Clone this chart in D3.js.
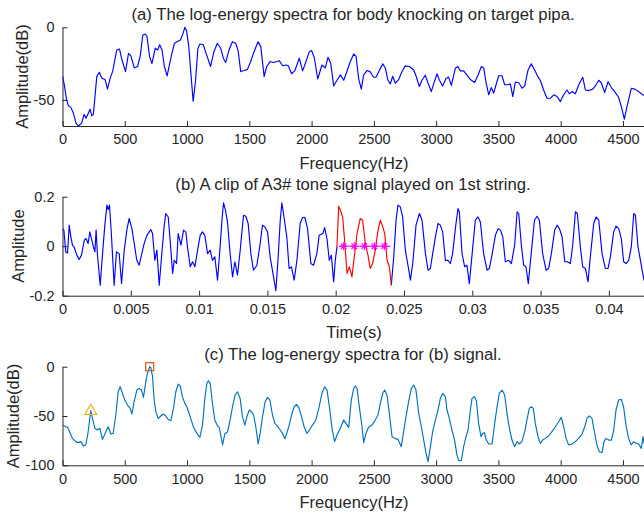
<!DOCTYPE html>
<html>
<head>
<meta charset="utf-8">
<script src="https://cdn.jsdelivr.net/npm/d3@7/dist/d3.min.js"></script>
<style>
html,body{margin:0;padding:0;background:#fff;}
svg{display:block;}
text{font-family:"Liberation Sans",Arial,Helvetica,sans-serif;fill:#262626;}
</style>
</head>
<body>
<svg id="chart" width="644" height="513"></svg>
<script>
// ---------- DATA ----------
const titles = [
  "(a) The log-energy spectra for body knocking on target pipa.",
  "(b) A clip of A3# tone signal played on 1st string.",
  "(c) The log-energy spectra for (b) signal."
];
const freqTicks = [0,500,1000,1500,2000,2500,3000,3500,4000,4500];
const timeTicks = [0,0.005,0.01,0.015,0.02,0.025,0.03,0.035,0.04];
const timeTickLabels = ["0","0.005","0.01","0.015","0.02","0.025","0.03","0.035","0.04"];
const yTicksA = [-50,0];
const yTicksB = [-0.2,0,0.2];
const yTicksC = [-100,-50,0];

// (a) body knocking spectrum: [Hz, dB]
const spectrumA = [
[0,-33.5],[12,-38.5],[33,-50],[47,-54],[66,-55],[87,-59],[108,-66],[127,-68],[154,-66],[173,-60],[189,-62.6],
[208,-59],[221,-56.4],[235,-61],[248,-60],[275,-34],[296,-31],[315,-35],[342,-36],[361,-42.6],[383,-35],[404,-30],
[423,-21],[436,-15.6],[458,-15],[476,-22],[506,-30.5],[530,-18],[549,-19.7],[576,-28],[603,-27],[624,-19.7],
[645,-5.3],[664,-4.6],[678,-6.3],[699,-20],[718,-25],[745,-14.4],[764,-15.6],[780,-12],[799,-15.6],[818,-27],
[840,-33.5],[861,-24.8],[880,-17.4],[899,-11],[920,-10],[947,-8.7],[969,-4],[982,0],[996,-2.3],[1014,-13.3],
[1033,-34],[1049,-51],[1068,-37],[1087,-14.7],[1103,-11.5],[1130,-12],[1157,-19],[1189,-27],[1216,-16.8],
[1243,-11],[1270,-14.4],[1291,-21.3],[1310,-24.3],[1337,-15.6],[1364,-10],[1390,-11],[1409,-15.6],[1431,-30.5],
[1458,-29.8],[1485,-29],[1511,-23.6],[1538,-16.8],[1570,-10],[1592,-13.3],[1619,-34],[1640,-27],[1667,-23.6],
[1694,-24.3],[1721,-23.6],[1740,-23],[1767,-26.5],[1794,-26],[1813,-26.5],[1839,-32],[1866,-29.8],[1901,-21.3],
[1928,-30],[1955,-23.6],[1982,-16.8],[2000,-16],[2022,-21],[2049,-35.6],[2083,-26],[2110,-28],[2132,-20.6],
[2154,-25],[2177,-40.4],[2204,-36.5],[2231,-32.8],[2258,-36.5],[2277,-32],[2311,-23.6],[2338,-18.4],[2357,-20],
[2378,-35.6],[2399,-42.6],[2418,-32.8],[2445,-29.8],[2471,-30.7],[2498,-34.4],[2517,-34.4],[2544,-29.8],
[2571,-25.2],[2592,-28],[2613,-36.5],[2632,-39],[2651,-33.7],[2672,-38.5],[2699,-36],[2726,-30.5],[2752,-26.6],
[2784,-27],[2819,-29.3],[2838,-33.4],[2865,-40.8],[2886,-36.5],[2913,-33],[2934,-38.2],[2961,-44.3],[2980,-39],
[3007,-32],[3026,-36.5],[3052,-40.4],[3079,-35.3],[3100,-34.3],[3122,-40],[3154,-28.2],[3175,-27],[3194,-30],
[3221,-30],[3248,-33],[3275,-36],[3309,-38],[3336,-33],[3363,-27],[3382,-28],[3400,-37.7],[3422,-46.5],
[3443,-41.5],[3462,-45.4],[3481,-39.6],[3502,-33.4],[3529,-33.4],[3550,-39.6],[3577,-39.6],[3596,-39],
[3615,-47.7],[3636,-37.7],[3663,-38.2],[3690,-42],[3711,-40.4],[3738,-29.4],[3764,-25.2],[3791,-29.4],
[3817,-34],[3836,-36.5],[3863,-43.2],[3890,-48.9],[3917,-48.9],[3944,-46.5],[3971,-47.7],[3997,-51.2],
[4024,-46.5],[4051,-43.2],[4070,-45.8],[4091,-44.3],[4118,-45.8],[4145,-39.6],[4177,-34.4],[4198,-43.2],
[4225,-43.6],[4257,-42.6],[4284,-39.6],[4305,-36.5],[4326,-38.2],[4353,-45],[4380,-37.5],[4407,-41.5],
[4433,-44.3],[4465,-48.2],[4487,-54.6],[4511,-63.3],[4532,-54.6],[4567,-42],[4594,-42.6],[4626,-44.3],
[4658,-46.5],[4700,-48]
];

// (b) A3# waveform: [s, amplitude]
const signalB = [
[0,0.071],[0.0001,0.065],[0.00024,-0.023],[0.00037,-0.027],[0.00049,0.085],[0.00061,0.038],[0.00073,0.004],
[0.00085,-0.003],[0.00105,-0.036],[0.00122,-0.054],[0.00139,-0.036],[0.00159,0.024],[0.00173,0.031],[0.00188,0.011],
[0.002,0.058],[0.0022,0.011],[0.00237,-0.023],[0.00246,0.065],[0.00256,-0.036],[0.00276,-0.158],[0.00293,-0.03],
[0.0031,0.085],[0.00325,0.166],[0.00334,0.148],[0.00344,0.166],[0.00359,0.038],[0.00378,-0.158],[0.00395,-0.023],
[0.00415,-0.03],[0.00432,-0.151],[0.00452,-0.016],[0.00471,0.065],[0.00488,0.112],[0.00508,0.071],[0.00525,0.011],
[0.00544,-0.057],[0.00561,-0.077],[0.00578,-0.036],[0.00598,0.011],[0.00618,0.044],[0.00635,0.058],[0.00647,0.067],
[0.00659,0.051],[0.00676,-0.057],[0.00691,-0.016],[0.00708,-0.158],[0.00725,-0.043],[0.00745,0.085],[0.00756,0.132],
[0.00774,0.118],[0.00788,0.024],[0.00806,-0.11],[0.00818,-0.057],[0.00835,-0.07],[0.00847,0.051],[0.00867,0.004],
[0.00886,0.065],[0.00903,0.058],[0.00915,-0.003],[0.00935,-0.083],[0.00952,-0.063],[0.00969,-0.083],[0.00989,-0.016],
[0.01008,0.044],[0.01025,0.058],[0.01042,0.044],[0.01062,-0.03],[0.01081,-0.016],[0.01098,-0.057],[0.01115,-0.043],
[0.01135,-0.137],[0.01152,-0.016],[0.01169,0.118],[0.01179,0.175],[0.01193,0.145],[0.01208,0.098],[0.01228,-0.036],
[0.01245,-0.124],[0.01262,-0.063],[0.01281,-0.117],[0.01301,-0.016],[0.01325,0.125],[0.01342,0.121],[0.01359,0.092],
[0.01379,-0.03],[0.01398,-0.097],[0.01423,-0.077],[0.01447,0.011],[0.01464,0.085],[0.01481,0.078],[0.01501,0.058],
[0.0152,-0.043],[0.01545,-0.124],[0.01562,-0.18],[0.01579,-0.043],[0.01594,0.105],[0.01606,0.175],[0.01623,0.112],
[0.01642,0.038],[0.01659,-0.09],[0.01676,-0.083],[0.01696,-0.137],[0.01716,-0.057],[0.0174,0.092],[0.01757,0.116],
[0.01774,0.116],[0.01794,0.071],[0.01818,-0.07],[0.01838,-0.077],[0.01862,-0.03],[0.01879,0.044],[0.01906,0.051],
[0.01919,0.075],[0.01936,0.031],[0.01953,-0.057],[0.01968,-0.036],[0.01985,-0.144],[0.01997,-0.057],[0.02009,-0.003],
[0.02022,0.162],[0.02039,0.139],[0.02051,0.118],[0.02066,0.018],[0.02083,-0.11],[0.021,-0.083],[0.02119,-0.124],
[0.02139,-0.03],[0.02156,0.051],[0.0218,0.112],[0.02197,0.105],[0.02217,0.011],[0.02236,-0.036],[0.02253,-0.09],
[0.0227,-0.07],[0.0229,-0.016],[0.0231,0.065],[0.02327,0.105],[0.02344,0.078],[0.02359,0.051],[0.02376,-0.057],
[0.02393,-0.083],[0.02407,-0.158],[0.02424,-0.05],[0.02442,0.105],[0.02456,0.166],[0.02473,0.159],[0.0249,0.118],
[0.0251,-0.016],[0.02529,-0.077],[0.02547,-0.137],[0.02564,-0.07],[0.02588,0.085],[0.02613,0.132],[0.02632,0.105],
[0.02657,-0.03],[0.02676,-0.097],[0.02693,-0.09],[0.0271,-0.03],[0.0273,0.038],[0.02749,0.092],[0.02766,0.085],
[0.02783,0.058],[0.02803,-0.057],[0.02822,-0.057],[0.02839,-0.07],[0.02856,-0.03],[0.02876,0.071],[0.02895,0.152],
[0.02905,0.139],[0.02925,-0.03],[0.02944,-0.083],[0.02961,-0.077],[0.02978,-0.151],[0.02998,-0.036],[0.03022,0.105],
[0.03042,0.118],[0.03059,0.098],[0.03083,-0.03],[0.03108,-0.097],[0.03125,-0.09],[0.03144,-0.036],[0.03169,0.044],
[0.03189,0.071],[0.03206,0.065],[0.03223,0.038],[0.03242,-0.063],[0.03267,-0.057],[0.03286,-0.07],[0.0331,0.004],
[0.03328,0.139],[0.0334,0.132],[0.03359,0.004],[0.03376,-0.077],[0.03393,-0.083],[0.0341,-0.151],[0.0343,-0.036],
[0.03455,0.105],[0.03474,0.121],[0.03491,0.105],[0.03515,-0.03],[0.0354,-0.097],[0.03559,-0.09],[0.03579,-0.03],
[0.03603,0.065],[0.03621,0.085],[0.03638,0.071],[0.03657,0.038],[0.03677,-0.063],[0.03696,-0.063],[0.03718,-0.07],
[0.03735,0.004],[0.03755,0.139],[0.03769,0.132],[0.03791,-0.003],[0.03808,-0.083],[0.03828,-0.09],[0.03847,-0.144],
[0.03864,-0.043],[0.03889,0.092],[0.03906,0.118],[0.03926,0.105],[0.0395,-0.03],[0.03974,-0.09],[0.03994,-0.09],
[0.04011,-0.043],[0.04035,0.058],[0.04052,0.081],[0.04072,0.071],[0.04091,0.031],[0.04108,-0.063],[0.04125,-0.07],
[0.04145,-0.057],[0.04164,-0.003],[0.04182,0.132],[0.04194,0.125],[0.04213,-0.003],[0.04231,-0.057],[0.04243,-0.097],
[0.04257,-0.137],[0.0428,-0.06]
];
// highlighted period (red) and its zero-line markers (magenta)
const highlightRange = [0.02009, 0.02407];
const markerTimes = [0.02058, 0.02136, 0.0221, 0.02283, 0.02356];
const markerLineRange = [0.02022, 0.02402];

// (c) spectrum of (b): [Hz, dB]
const spectrumC = [
[0,-59.2],[27,-60.9],[40,-61.5],[62,-67.6],[80,-72.7],[107,-76],[126,-77],[147,-76],[169,-80.5],[187,-79.4],
[206,-66],[227,-44.6],[241,-52.4],[260,-62.5],[281,-64.2],[300,-62.5],[321,-73.7],[348,-66],[367,-60.9],[388,-68.3],
[407,-67.6],[428,-49],[447,-25.4],[463,-20.3],[482,-27],[500,-33.8],[522,-38.9],[543,-42.3],[557,-48],[575,-35.5],
[597,-23.7],[616,-22],[634,-23.7],[650,-31.1],[669,-15.2],[682,-6.8],[700,0],[709,-1],[723,-10.1],[736,-33.8],
[749,-45.6],[768,-52.4],[790,-50],[808,-48],[830,-50],[848,-53.4],[870,-54.8],[891,-42.3],[910,-25.4],[929,-17.6],
[945,-19.6],[963,-30.4],[982,-37.2],[998,-40.6],[1025,-50.7],[1052,-61.5],[1079,-67.6],[1103,-71.7],[1124,-59.2],
[1143,-32.1],[1159,-16.9],[1172,-14.2],[1186,-16.9],[1204,-37.2],[1223,-54],[1245,-60.2],[1258,-61.5],[1271,-69.3],
[1285,-79.4],[1303,-68.3],[1325,-66],[1346,-54],[1365,-40.6],[1386,-28.7],[1405,-25.4],[1426,-32.1],[1445,-50.7],
[1464,-59.2],[1480,-50.7],[1499,-44],[1517,-45.6],[1534,-49],[1552,-60.9],[1571,-78.4],[1587,-67.6],[1606,-50.7],
[1627,-35.5],[1646,-31.1],[1665,-33.8],[1686,-49],[1705,-57.5],[1726,-60.2],[1748,-64.2],[1766,-67.6],[1785,-73],
[1801,-67.6],[1820,-59.2],[1839,-49],[1860,-40.6],[1879,-38.2],[1900,-42.3],[1919,-50.7],[1940,-60.9],[1962,-67.6],
[1980,-64.9],[2007,-59.2],[2034,-54],[2061,-40.6],[2083,-27],[2105,-20.3],[2124,-23.7],[2143,-40.6],[2164,-62.5],
[2185,-76],[2204,-69.3],[2231,-62.5],[2257,-54],[2276,-57.5],[2298,-61.5],[2319,-33.8],[2338,-22],[2351,-19.6],
[2365,-22],[2383,-40.6],[2405,-60.9],[2418,-77],[2437,-67.6],[2458,-61.5],[2485,-59.2],[2511,-54],[2533,-49],
[2552,-37.2],[2571,-27],[2587,-23.7],[2605,-28.7],[2624,-47.3],[2646,-71],[2667,-72.7],[2694,-73.7],[2720,-81.1],
[2739,-65.9],[2758,-50.7],[2779,-35.5],[2801,-22],[2820,-18.6],[2838,-23.7],[2860,-47.3],[2881,-60.9],[2900,-74.4],
[2919,-87.9],[2935,-96.3],[2954,-81.1],[2972,-65.9],[2994,-54],[3015,-43.9],[3034,-32.1],[3053,-27],[3074,-30.4],
[3087,-43.9],[3106,-52.4],[3127,-64.2],[3148,-74.4],[3167,-89.6],[3181,-95.3],[3202,-95.3],[3221,-81.1],[3240,-71],
[3256,-64.2],[3275,-43.9],[3288,-32.1],[3307,-30.4],[3323,-34.5],[3341,-57.5],[3360,-71],[3373,-67.6],[3387,-66.9],
[3403,-74.4],[3422,-78.4],[3449,-78.4],[3470,-57.5],[3489,-40.6],[3507,-27],[3529,-23.7],[3550,-28.7],[3569,-47.3],
[3588,-62.5],[3609,-74.4],[3630,-81.1],[3649,-76],[3668,-78.4],[3689,-76],[3711,-65.9],[3729,-54],[3748,-42.3],
[3764,-40.6],[3780,-42.3],[3796,-57.5],[3818,-71],[3837,-77.8],[3855,-74.4],[3877,-72.7],[3903,-70.3],[3930,-65.9],
[3957,-60.9],[3984,-55.8],[4005,-51.4],[4024,-60.9],[4043,-72.7],[4064,-79.4],[4091,-78.4],[4118,-76],[4144,-72.7],
[4171,-68.3],[4193,-60.9],[4211,-52.4],[4230,-50],[4251,-52.4],[4273,-67.6],[4291,-79.4],[4310,-86.2],[4332,-87.2],
[4348,-76],[4364,-72.7],[4385,-74.4],[4407,-74.4],[4425,-64.9],[4444,-43.9],[4465,-33.8],[4486,-33.1],[4505,-40.6],
[4524,-59.2],[4545,-72.7],[4566,-79.4],[4585,-76],[4604,-77.8],[4626,-78.4],[4647,-82.8],[4661,-71],[4669,-77.8],
[4700,-70]
];
// marked peaks in (c)
const fundamentalPeak = [227, -45];   // triangle
const maxPeak = [700, 0];             // square

// ---------- DRAW ----------
const svg = d3.select("#chart");
svg.append("rect").attr("width",644).attr("height",513).attr("fill","#fff");

const axisColor = "#262626";
const x0 = 62.5;
const freqMax = 4700;
const xFreq = d3.scaleLinear().domain([0, freqMax]).range([x0, x0 + freqMax*0.12455]);
const timeMax = 0.043;
const xTime = d3.scaleLinear().domain([0, timeMax]).range([x0, x0 + timeMax*13660]);

const yA = d3.scaleLinear().domain([-68, 0]).range([126, 27.3]);
const yB = d3.scaleLinear().domain([-0.2, 0.2]).range([295.7, 196.7]);
const yC = d3.scaleLinear().domain([-100, 0]).range([465.3, 366.7]);

function styleAxis(g){
  g.selectAll("path.domain").attr("stroke",axisColor).attr("stroke-width",1);
  g.selectAll(".tick line").attr("stroke",axisColor).attr("stroke-width",1);
  g.selectAll(".tick text").attr("fill",axisColor).style("font-size","14.5px")
   .style("font-family",'"Liberation Sans",Arial,sans-serif');
}

function panel(x, y, xticks, xfmt, yticks, yfmt){
  const [y0] = y.range();
  const gx = svg.append("g").attr("transform",`translate(0,${y0})`)
    .call(d3.axisBottom(x).tickValues(xticks).tickFormat(xfmt).tickSizeInner(-5).tickSizeOuter(0).tickPadding(8));
  styleAxis(gx);
  const gy = svg.append("g").attr("transform",`translate(${x.range()[0]},0)`)
    .call(d3.axisLeft(y).tickValues(yticks).tickFormat(yfmt).tickSizeInner(-5).tickSizeOuter(0).tickPadding(8));
  styleAxis(gy);
}

const fmtFreq = d => String(d);
const fmtTime = (d,i) => timeTickLabels[i];

panel(xFreq, yA, freqTicks, fmtFreq, yTicksA, d => String(d));
panel(xTime, yB, timeTicks, fmtTime, yTicksB, d => String(d));
panel(xFreq, yC, freqTicks, fmtFreq, yTicksC, d => String(d));

// clip to plotting areas
const defs = svg.append("defs");
function clip(id, y){
  defs.append("clipPath").attr("id",id).append("rect")
    .attr("x",x0).attr("y",y.range()[1]-2).attr("width",644-x0).attr("height",y.range()[0]-y.range()[1]+4);
}
clip("cA", yA); clip("cB", yB); clip("cC", yC);

const lw = 1.15;
// (a)
svg.append("path").datum(spectrumA).attr("clip-path","url(#cA)")
  .attr("fill","none").attr("stroke","#0000ff").attr("stroke-width",lw).attr("stroke-linejoin","round")
  .attr("d", d3.line().x(d=>xFreq(d[0])).y(d=>yA(d[1])));

// (b) split into blue / red / blue segments sharing the boundary samples
const lineB = d3.line().x(d=>xTime(d[0])).y(d=>yB(d[1]));
const segBefore = signalB.filter(d=>d[0]<=highlightRange[0]);
const segRed = signalB.filter(d=>d[0]>=highlightRange[0]&&d[0]<=highlightRange[1]);
const segAfter = signalB.filter(d=>d[0]>=highlightRange[1]);
[[segBefore,"#0000ff"],[segAfter,"#0000ff"],[segRed,"#ff0000"]].forEach(([seg,col])=>{
  svg.append("path").datum(seg).attr("clip-path","url(#cB)")
    .attr("fill","none").attr("stroke",col).attr("stroke-width",lw).attr("stroke-linejoin","round")
    .attr("d", lineB);
});
svg.append("line")
  .attr("x1",xTime(markerLineRange[0])).attr("x2",xTime(markerLineRange[1]))
  .attr("y1",yB(0)).attr("y2",yB(0)).attr("stroke","#ff00ff").attr("stroke-width",lw);
const star = svg.append("g");
markerTimes.forEach(t=>{
  const cx = xTime(t), cy = yB(0), r = 4;
  const g = star.append("g").attr("transform",`translate(${cx},${cy})`);
  [[-r,0,r,0],[0,-r,0,r],[-r*0.7,-r*0.7,r*0.7,r*0.7],[-r*0.7,r*0.7,r*0.7,-r*0.7]].forEach(s=>{
    g.append("line").attr("x1",s[0]).attr("y1",s[1]).attr("x2",s[2]).attr("y2",s[3])
      .attr("stroke","#ff00ff").attr("stroke-width",lw);
  });
});

// (c)
svg.append("path").datum(spectrumC).attr("clip-path","url(#cC)")
  .attr("fill","none").attr("stroke","#0072bd").attr("stroke-width",lw).attr("stroke-linejoin","round")
  .attr("d", d3.line().x(d=>xFreq(d[0])).y(d=>yC(d[1])));
svg.append("path")
  .attr("transform",`translate(${xFreq(fundamentalPeak[0])},${yC(fundamentalPeak[1])})`)
  .attr("d", d3.symbol().type(d3.symbolTriangle).size(60))
  .attr("fill","none").attr("stroke","#edb120").attr("stroke-width",1.2);
svg.append("rect")
  .attr("x",xFreq(maxPeak[0])-4).attr("y",yC(maxPeak[1])-4).attr("width",8).attr("height",8)
  .attr("fill","none").attr("stroke","#d95319").attr("stroke-width",1.2);

// titles & labels
const titleY = [20, 190, 360];
titles.forEach((t,i)=>{
  svg.append("text").attr("x",353).attr("y",titleY[i]).attr("text-anchor","middle")
    .style("font-size","16.7px").text(t);
});
const xl = [["Frequency(Hz)",169],["Time(s)",337.5],["Frequency(Hz)",507.5]];
xl.forEach(([t,y])=>{
  svg.append("text").attr("x",354).attr("y",y).attr("text-anchor","middle").style("font-size","16.5px").text(t);
});
const yl = [["Amplitude(dB)",22,76.5],["Amplitude",18,246],["Amplitude(dB)",13.5,416]];
yl.forEach(([t,x,y])=>{
  svg.append("text").attr("transform",`translate(${x},${y}) rotate(-90)`).attr("dy","0.35em")
    .attr("text-anchor","middle").style("font-size","16.5px").text(t);
});
</script>
</body>
</html>
